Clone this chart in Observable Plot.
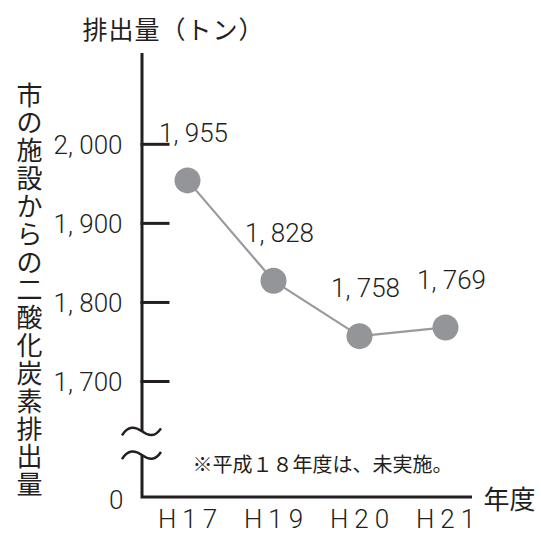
<!DOCTYPE html>
<html><head><meta charset="utf-8">
<script src="https://cdn.jsdelivr.net/npm/d3@7"></script>
<script src="https://cdn.jsdelivr.net/npm/@observablehq/plot@0.6"></script>
<style>html,body{margin:0;padding:0;background:#fff}svg{display:block}</style>
</head><body><div id="chart"></div>
<script>
// ---- data ----
const years = ["H17", "H19", "H20", "H21"];
const emissions = [1955, 1828, 1758, 1769];
const yTicks = [1700, 1800, 1900, 2000];
const zeroTick = [0];
const breakValues = [1637, 1607];
const titleText = "排出量（トン）";
const yLabelText = "市の施設からの二酸化炭素排出量";
const xLabelText = "年度";
const noteText = "※平成１８年度は、未実施。";

const data = years.map((year, i) => ({year, value: emissions[i]}));
const fmt = v => d3.format(",")(v).replace(",", ", ");
const ink = "#231f20";
const font = "'Noto Sans CJK JP', 'Noto Sans', sans-serif";
const numFont = "Roboto, 'Liberation Sans', sans-serif";

function axisDecor(index, {y}, values, dims) {
  const g = d3.create("svg:g").attr("fill", "none").attr("stroke", ink).attr("stroke-width", 3);
  const x0 = dims.marginLeft;
  const xr = dims.width - dims.marginRight;
  const b1 = y(breakValues[0]), b2 = y(breakValues[1]);
  g.append("path").attr("d", `M${x0},${dims.marginTop}V${b1}M${x0},${b2}V${y(0)}H${xr}`);
  for (const t of yTicks) g.append("path").attr("d", `M${x0 - 1.5},${y(t)}h29`);
  for (const by of [b1, b2]) {
    g.append("path").attr("stroke-width", 2.5)
      .attr("d", `M${x0 - 20},${by + 4}C${x0 - 14},${by - 6} ${x0 - 7},${by - 5} ${x0},${by}S${x0 + 13},${by + 6} ${x0 + 19},${by - 3}`);
  }
  return g.node();
}

const chart = Plot.plot({
  width: 541,
  height: 540,
  marginLeft: 142,
  marginRight: 69,
  marginTop: 53,
  marginBottom: 43,
  style: {fontFamily: font, background: "#fff", color: ink},
  x: {type: "point", domain: years, range: [187, 445], padding: 0, axis: null},
  y: {type: "linear", domain: [0, 1600, 2000], range: [497, 460.6, 144.3], axis: null},
  marks: [
    axisDecor,
    Plot.text(yTicks, {y: d => d, text: d => fmt(d), frameAnchor: "left", lineAnchor: "middle", textAnchor: "end", dx: -20, dy: 1, fontSize: 26, fontWeight: 300, fontFamily: numFont, fill: ink}),
    Plot.text(zeroTick, {y: d => d, text: d => String(d), frameAnchor: "left", lineAnchor: "middle", textAnchor: "end", dx: -19, dy: 3, fontSize: 26, fontWeight: 300, fontFamily: numFont, fill: ink}),
    Plot.text(years, {x: d => d, text: d => d, frameAnchor: "bottom", lineAnchor: "middle", dy: 22, dx: 3, fontSize: 26, fontWeight: 300, fontFamily: numFont, fill: ink}),
    Plot.line(data, {x: "year", y: "value", stroke: "#9a9a9c", strokeWidth: 2.2}),
    Plot.dot(data, {x: "year", y: "value", r: 13, fill: "#939598", stroke: "none"}),
    Plot.text(data, {x: "year", y: "value", text: d => fmt(d.value), lineAnchor: "middle", dy: -47, dx: 6, fontSize: 26, fontWeight: 300, fontFamily: numFont, fill: ink}),
    Plot.text([titleText], {text: d => d, frameAnchor: "top-left", lineAnchor: "middle", textAnchor: "start", dx: -60, dy: -23, fontSize: 25, fill: ink}),
    Plot.text([yLabelText], {text: d => Array.from(d).join("\n"), frameAnchor: "left", lineAnchor: "middle", textAnchor: "middle", dx: -113, dy: 15, fontSize: 26, lineHeight: 1.07, fill: ink}),
    Plot.text([xLabelText], {text: d => d, frameAnchor: "bottom-right", lineAnchor: "middle", textAnchor: "start", dx: 11, dy: 3, fontSize: 26, fill: ink}),
    Plot.text([noteText], {text: d => d, frameAnchor: "bottom-left", lineAnchor: "middle", textAnchor: "start", dx: 50, dy: -32, fontSize: 20, fill: ink})
  ]
});
d3.select(chart).selectAll("text").filter(function() { return years.includes(this.textContent); }).style("letter-spacing", "6px");
d3.select(chart).selectAll("text").filter(function() { return this.textContent === titleText; }).style("letter-spacing", "1px");
document.getElementById("chart").appendChild(chart);
</script>
</body></html>
